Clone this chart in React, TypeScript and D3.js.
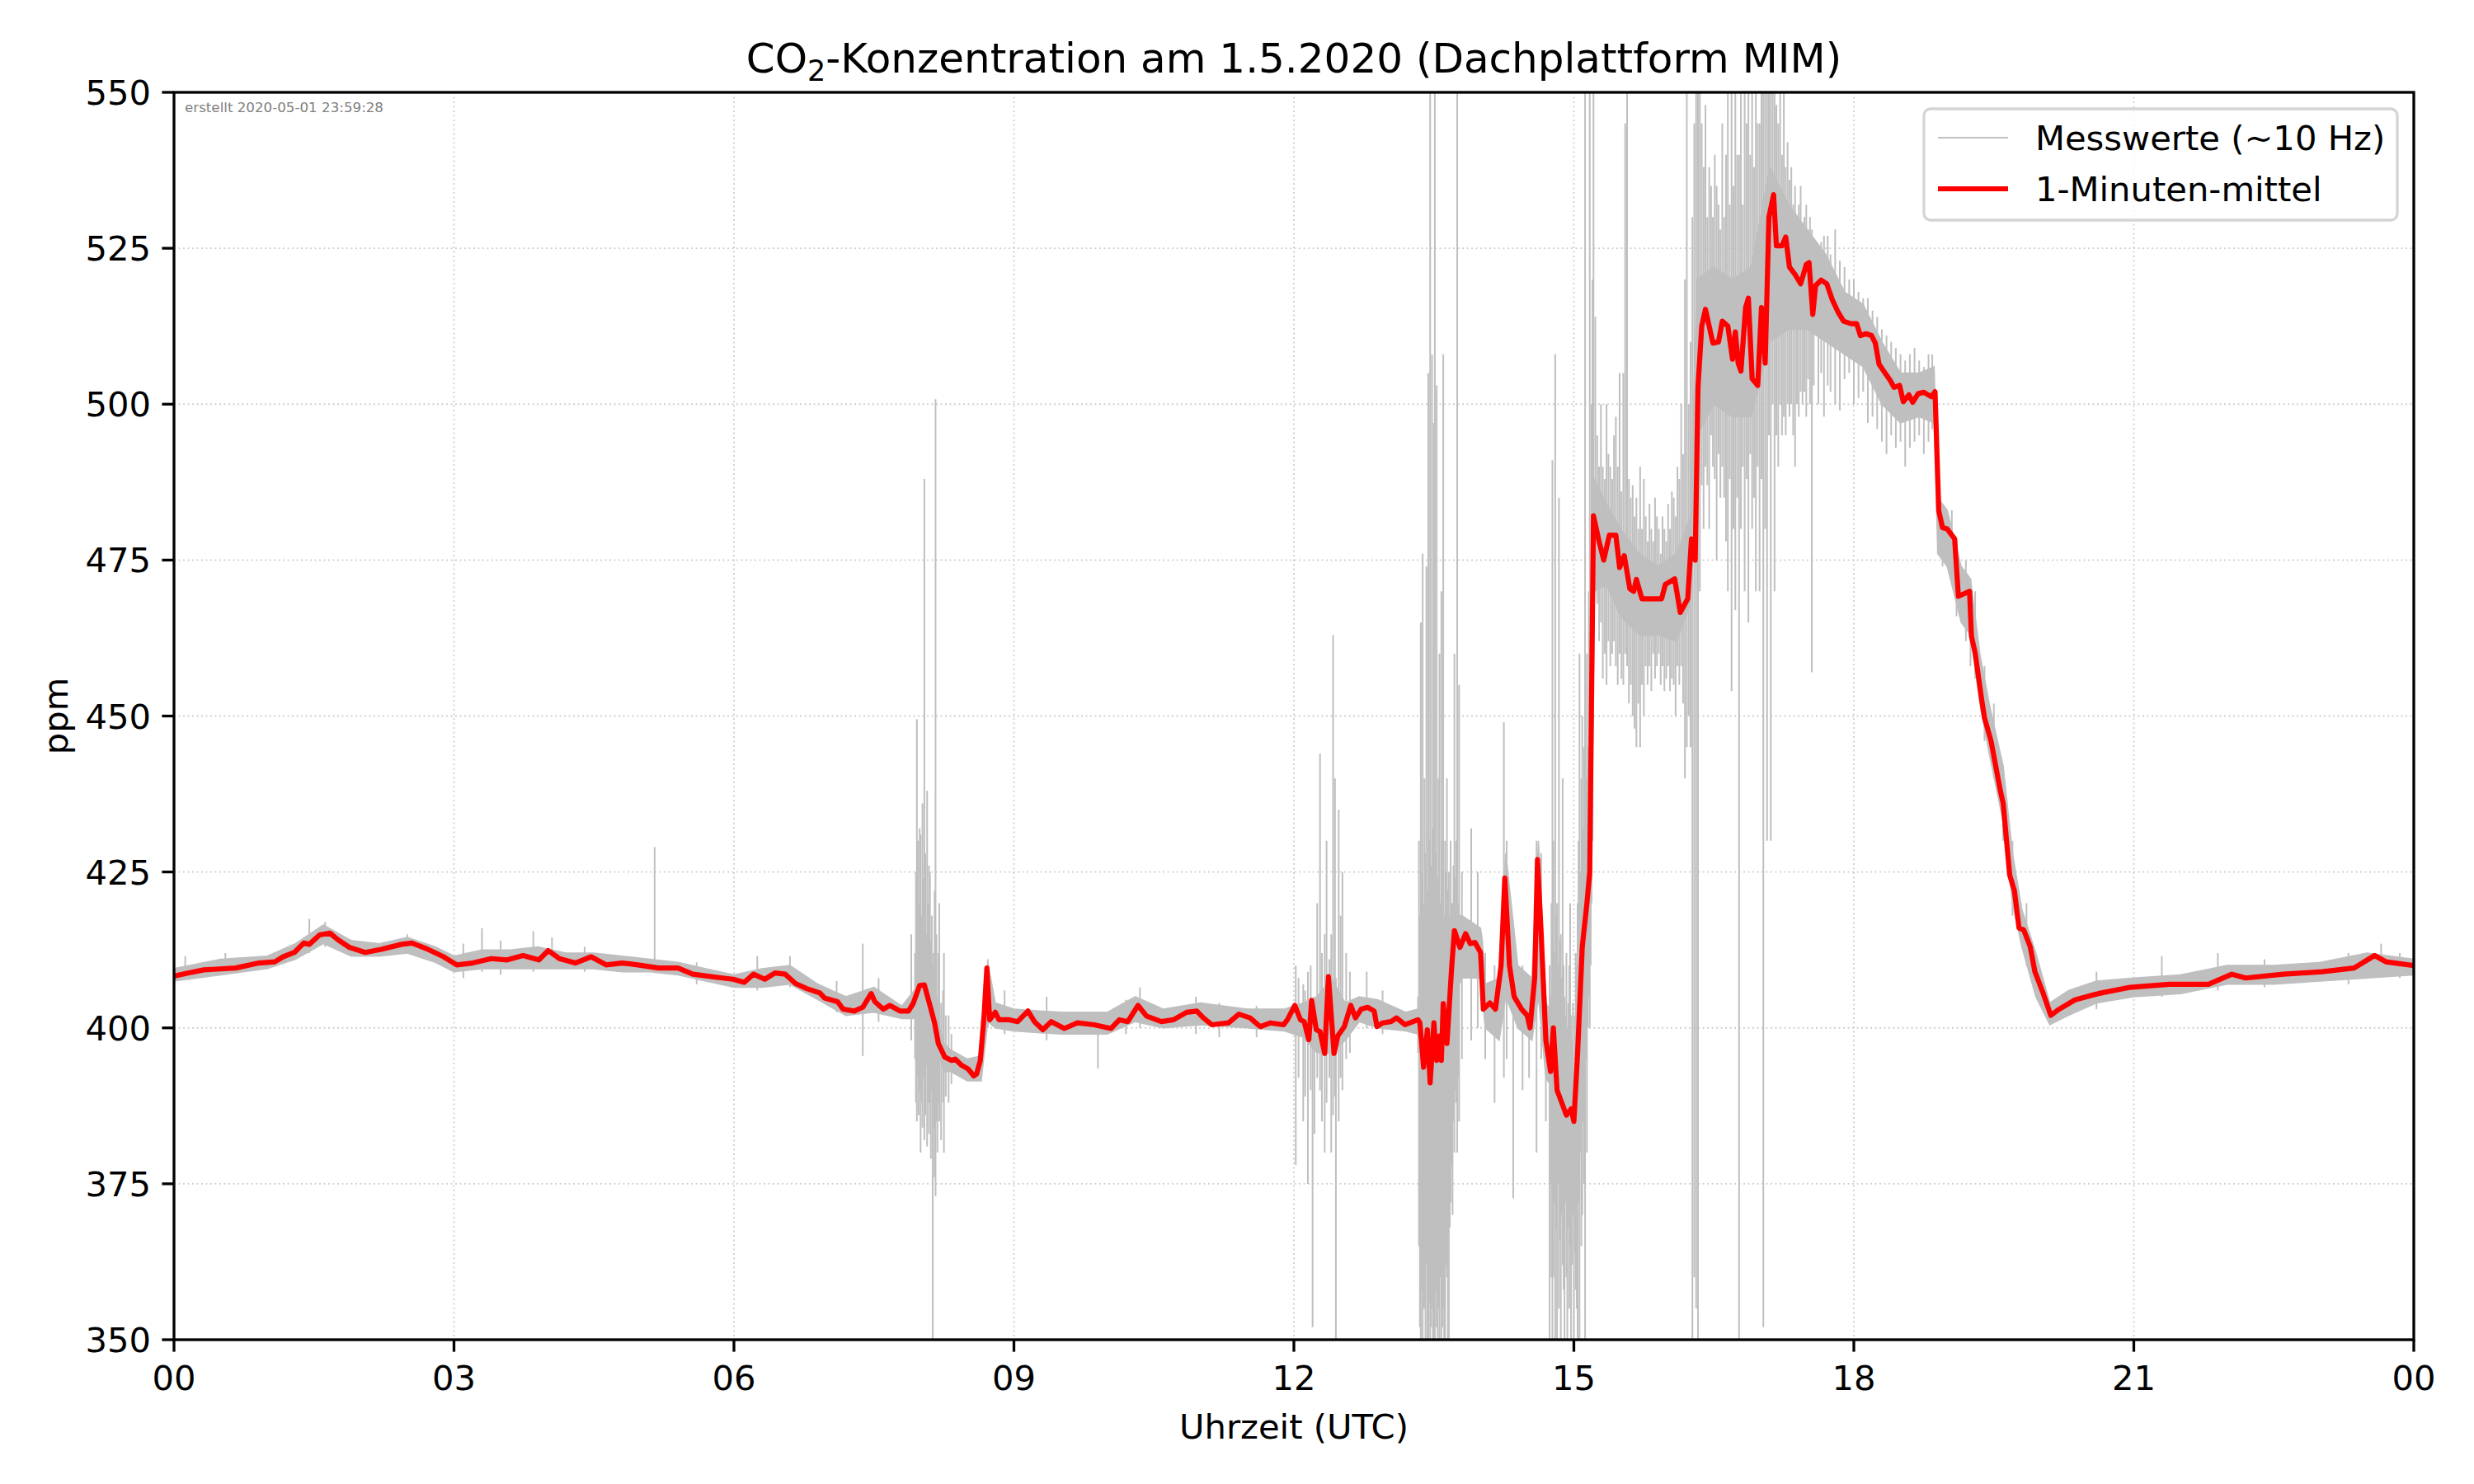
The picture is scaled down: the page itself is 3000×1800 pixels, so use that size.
import * as d3 from "d3";

// plot frame in page pixels (figure is 3000x1800)
const plot = { left: 211, right: 2927, top: 112, bottom: 1625 };
const width = 3000,
  height = 1800;

const title = "-Konzentration am 1.5.2020 (Dachplattform MIM)";
const xLabel = "Uhrzeit (UTC)";
const yLabel = "ppm";
const stamp = "erstellt 2020-05-01 23:59:28";
const legendLabels = ["Messwerte (~10 Hz)", "1-Minuten-mittel"];

const xTickHours = [0, 3, 6, 9, 12, 15, 18, 21, 24];
const xTickLabels = ["00", "03", "06", "09", "12", "15", "18", "21", "00"];
const yTicks = [350, 375, 400, 425, 450, 475, 500, 525, 550];

// 1-Minuten-mittel: [Stunde, ppm]
const meanSeries: [number, number][] = [
  [0, 408.3], [0.15, 408.8], [0.32, 409.3], [0.66, 409.6], [0.91, 410.4], [1.08, 410.6],
  [1.17, 411.4], [1.29, 412.1], [1.39, 413.6], [1.45, 413.4], [1.56, 414.9], [1.67, 415.2],
  [1.76, 414.1], [1.88, 412.9], [2.05, 412.1], [2.22, 412.6], [2.44, 413.4], [2.55, 413.6],
  [2.72, 412.6], [2.89, 411.4], [3.03, 410.1], [3.2, 410.4], [3.4, 411.1], [3.57, 410.9],
  [3.74, 411.6], [3.91, 410.9], [4.01, 412.4], [4.13, 411.1], [4.3, 410.4], [4.47, 411.4],
  [4.63, 410.1], [4.8, 410.4], [4.97, 410.1], [5.19, 409.6], [5.4, 409.6], [5.56, 408.6],
  [5.82, 408.1], [5.99, 407.8], [6.11, 407.3], [6.21, 408.6], [6.33, 407.8], [6.44, 408.8],
  [6.55, 408.6], [6.66, 407.1], [6.78, 406.3], [6.92, 405.6], [6.97, 404.8], [7.11, 404.2],
  [7.17, 403], [7.29, 402.7], [7.38, 403.3], [7.47, 405.5], [7.51, 404.2], [7.6, 403],
  [7.67, 403.6], [7.78, 402.7], [7.87, 402.7], [7.92, 403.9], [7.99, 406.8], [8.04, 406.9],
  [8.1, 403.6], [8.15, 400.8], [8.19, 397.5], [8.26, 395.3], [8.33, 394.8], [8.37, 395],
  [8.44, 394], [8.51, 393.4], [8.57, 392.3], [8.6, 392.6], [8.64, 394.8], [8.68, 401.9],
  [8.71, 409.6], [8.74, 401.3], [8.8, 402.5], [8.84, 401.3], [8.95, 401.3], [9.04, 401],
  [9.15, 402.7], [9.22, 401], [9.31, 399.7], [9.4, 401], [9.54, 399.9], [9.68, 400.8],
  [9.86, 400.5], [10.04, 399.9], [10.13, 401.3], [10.22, 401], [10.33, 403.6], [10.42, 401.9],
  [10.58, 401], [10.71, 401.3], [10.85, 402.5], [10.96, 402.7], [11.03, 401.6], [11.12, 400.5],
  [11.3, 400.8], [11.41, 402.2], [11.53, 401.6], [11.64, 400.2], [11.75, 400.8], [11.89, 400.5],
  [11.93, 401.3], [12.01, 403.6], [12.07, 401.3], [12.11, 401], [12.16, 398.1], [12.19, 404.4],
  [12.24, 399.7], [12.28, 399.4], [12.33, 395.9], [12.37, 408.2], [12.43, 395.9], [12.47, 398.7],
  [12.54, 400.2], [12.61, 403.6], [12.66, 401.6], [12.72, 403], [12.79, 403.3], [12.86, 402.7],
  [12.89, 400.2], [12.95, 400.8], [13.04, 401], [13.1, 401.6], [13.19, 400.5], [13.33, 401.3],
  [13.35, 400.8], [13.39, 393.7], [13.43, 399.7], [13.46, 391.2], [13.5, 400.8], [13.53, 394.8],
  [13.56, 398.7], [13.58, 394.8], [13.6, 403.9], [13.64, 397.5], [13.69, 409.6], [13.72, 415.6],
  [13.78, 412.9], [13.84, 415.1], [13.89, 413.5], [13.94, 413.7], [14.0, 412.1], [14.03, 403],
  [14.1, 404], [14.16, 403], [14.22, 410], [14.26, 424], [14.31, 410], [14.36, 405],
  [14.44, 403], [14.5, 402], [14.53, 400], [14.58, 408], [14.61, 427], [14.65, 415],
  [14.7, 398], [14.75, 393], [14.78, 400], [14.82, 390], [14.87, 388], [14.92, 386],
  [14.97, 387], [15.0, 385], [15.04, 396], [15.09, 413], [15.14, 420], [15.17, 425],
  [15.21, 482.1], [15.27, 478], [15.32, 475], [15.38, 479], [15.45, 479], [15.49, 473.8],
  [15.54, 475.7], [15.6, 470.4], [15.64, 470], [15.67, 471.9], [15.73, 468.8], [15.94, 468.8],
  [15.98, 471.1], [16.08, 472], [16.14, 466.6], [16.22, 468.8], [16.26, 478.4], [16.3, 475],
  [16.33, 502.7], [16.37, 512.5], [16.41, 515.2], [16.49, 509.8], [16.55, 510], [16.59, 513.3],
  [16.65, 512.5], [16.7, 507.2], [16.73, 511.6], [16.76, 506.6], [16.79, 505.3], [16.84, 515.5],
  [16.87, 517], [16.91, 504.1], [16.97, 503], [17.01, 515.5], [17.05, 506.6], [17.09, 530],
  [17.14, 533.6], [17.17, 525.4], [17.23, 525.4], [17.27, 526.8], [17.31, 522], [17.37, 520.8],
  [17.43, 519.3], [17.49, 522.4], [17.52, 522.7], [17.56, 514.4], [17.59, 519], [17.65, 519.9],
  [17.71, 519.3], [17.77, 516.7], [17.83, 514.8], [17.89, 513.3], [17.97, 512.9], [18.03, 512.9],
  [18.07, 511], [18.13, 511.3], [18.19, 511], [18.23, 509.8], [18.27, 506.4], [18.33, 505.1],
  [18.39, 503.8], [18.43, 502.7], [18.49, 503], [18.53, 500.4], [18.59, 501.5], [18.63, 500.3],
  [18.69, 501.7], [18.75, 501.9], [18.83, 501.2], [18.87, 502], [18.91, 482.9], [18.95, 480.2],
  [19.0, 480], [19.08, 478.4], [19.12, 469.2], [19.18, 469.6], [19.24, 470], [19.26, 462.8],
  [19.3, 460.1], [19.37, 452.6], [19.4, 449.7], [19.47, 446], [19.52, 442], [19.57, 438],
  [19.6, 436], [19.63, 431], [19.67, 424.5], [19.72, 422], [19.77, 416], [19.82, 415.7],
  [19.89, 413], [19.94, 409], [20.03, 405.5], [20.11, 402], [20.2, 403], [20.37, 404.5],
  [20.62, 405.5], [20.96, 406.5], [21.38, 407], [21.8, 407], [22.05, 408.6], [22.2, 408],
  [22.6, 408.6], [23.02, 409], [23.36, 409.6], [23.58, 411.6], [23.7, 410.6], [24, 410],
];

// Messwerte, schmaler Kern um das Mittel: [Stunde, unten, oben]
const rawBand: [number, number, number][] = [
  [0, 407.5, 409.5], [0.5, 408.5, 411], [1.0, 409.5, 411.5], [1.3, 411, 413.5], [1.6, 413.5, 416.5],
  [1.9, 411.5, 414], [2.2, 411.5, 413.5], [2.5, 412, 414.5], [2.8, 410.5, 413], [3.0, 409, 411.5],
  [3.3, 409.5, 412.5], [3.6, 409.5, 412.5], [3.9, 409.5, 413], [4.2, 409.5, 412], [4.5, 409.5, 412],
  [4.8, 409, 411.5], [5.1, 409, 411], [5.4, 408.5, 410.5], [5.7, 407.5, 409.5], [6.0, 406.5, 408.5],
  [6.3, 406.5, 409.5], [6.6, 407, 410], [6.9, 404.5, 407], [7.2, 402, 405], [7.5, 402.5, 406.5],
  [7.8, 401.5, 403.5], [7.93, 401.5, 406], [8.05, 402, 408], [8.15, 398, 403], [8.25, 393, 397.5],
  [8.32, 393, 396.5], [8.5, 391.5, 395], [8.65, 391.5, 395.5], [8.72, 401, 410.5],
  [8.8, 400, 404], [9.0, 399.5, 403], [9.5, 399, 402.5], [10.0, 399, 402.5], [10.3, 401, 405],
  [10.6, 400, 403], [11.0, 400.5, 404], [11.5, 400, 403], [11.9, 399.5, 403], [12.1, 398.5, 404],
  [12.25, 396, 405], [12.4, 396, 408], [12.55, 398, 404], [12.7, 401, 405], [12.9, 400, 404.5],
  [13.2, 399.5, 402.5], [13.33, 399, 403], [13.36, 392, 404], [13.5, 390, 404], [13.65, 394, 408],
  [13.72, 405, 418], [13.8, 408, 418], [14.0, 408, 416], [14.02, 405, 414], [14.05, 400, 407],
  [14.2, 398, 408], [14.27, 405, 428], [14.4, 400, 410], [14.55, 398, 408], [14.62, 405, 430],
  [14.7, 392, 404], [14.78, 390, 402], [14.9, 383, 392], [15.0, 382, 390], [15.1, 405, 420],
  [15.18, 415, 430], [15.22, 470, 488], [15.35, 471, 484], [15.5, 466, 480], [15.7, 463, 476],
  [15.9, 463, 474], [16.1, 462, 476], [16.25, 468, 482], [16.32, 495, 520], [16.5, 500, 522],
  [16.7, 498, 520], [16.9, 498, 522], [17.1, 510, 538], [17.3, 512, 532], [17.5, 512, 528],
  [17.7, 510, 524], [17.9, 508, 518], [18.1, 506, 516], [18.3, 500, 510], [18.5, 497, 505],
  [18.7, 498, 505], [18.86, 497, 506], [18.9, 476, 485], [19.0, 474, 483], [19.15, 465, 474],
  [19.25, 463, 472], [19.35, 452, 460], [19.45, 444, 452], [19.6, 433, 442], [19.7, 420, 428],
  [19.8, 413, 419], [19.95, 405, 412], [20.1, 400.5, 404], [20.3, 402, 406], [20.6, 404, 407.5],
  [21.0, 405, 408], [21.5, 405.5, 408.5], [22.0, 407, 410], [22.5, 407, 410], [23.0, 407.5, 410.5],
  [23.5, 408, 412], [24, 408.5, 411],
];

// Messwerte, einzelne Ausschlaege: [Stunde, unten, oben]
const rawSpikes: [number, number, number][] = [
  // ruhige Phase
  [0.12, 408, 411.5], [0.55, 408.5, 412], [1.45, 412, 417.5], [1.62, 413, 417], [2.5, 412, 415],
  [3.1, 408, 413.5], [3.3, 409, 416], [3.5, 408.5, 414], [3.85, 409, 415.5], [4.05, 409.5, 414.5],
  [4.4, 409, 413], [5.15, 409, 429], [5.6, 407, 410.5], [6.25, 406, 411.5], [6.6, 406.5, 411.5],
  [7.1, 402.5, 407.5], [7.38, 395.5, 413.5], [7.55, 401, 408], [7.9, 398, 415],
  // um 8 Uhr
  [7.94, 395, 412], [7.95, 388, 425], [7.96, 385, 449.5], [7.97, 392, 430], [7.98, 386, 420],
  [7.99, 390, 432], [8.0, 380, 431], [8.01, 388, 418], [8.02, 384, 436], [8.03, 392, 424],
  [8.04, 382, 488], [8.05, 386, 428], [8.06, 394, 415], [8.07, 381, 438], [8.08, 388, 420],
  [8.09, 383, 426], [8.1, 388, 425], [8.11, 379, 414], [8.12, 390, 418], [8.13, 350, 410],
  [8.14, 384, 412], [8.15, 376, 422], [8.16, 373, 500.8], [8.17, 385, 415], [8.18, 380, 405],
  [8.19, 388, 412], [8.2, 385, 420], [8.22, 382, 404], [8.24, 388, 406], [8.25, 380, 412],
  [8.27, 389, 402], [8.3, 388, 402], [8.33, 391, 399],
  [8.72, 400, 411], [8.9, 399, 406], [9.35, 398, 405], [9.9, 393.5, 402], [10.2, 399, 404.5],
  [10.35, 400, 406.5], [10.95, 399, 405], [11.2, 398.5, 404], [11.6, 398.5, 403.5],
  // um 12 Uhr
  [12.02, 378, 410], [12.05, 392, 408], [12.1, 385, 407], [12.12, 389, 406], [12.15, 375, 409],
  [12.18, 390, 410], [12.2, 352, 404], [12.22, 383, 405], [12.25, 392, 420], [12.28, 390, 444],
  [12.3, 385, 412], [12.33, 380, 415], [12.35, 388, 430], [12.38, 392, 411], [12.4, 380, 415],
  [12.42, 386, 463], [12.44, 389, 440], [12.45, 350, 408], [12.48, 385, 435], [12.5, 392, 418],
  [12.52, 390, 425], [12.56, 395, 412], [12.6, 396, 409], [12.78, 400, 409], [12.95, 399, 406],
  // 13:20 bis 13:45
  [13.33, 396, 405], [13.34, 365, 430], [13.35, 352, 418], [13.36, 350, 465], [13.37, 358, 425],
  [13.38, 350, 476], [13.39, 355, 420], [13.4, 355, 440], [13.41, 350, 428], [13.42, 362, 474],
  [13.43, 350, 422], [13.44, 350, 505], [13.45, 356, 430], [13.46, 350, 550], [13.47, 352, 426],
  [13.48, 355, 508], [13.49, 350, 432], [13.5, 350, 497], [13.51, 350, 550], [13.52, 358, 428],
  [13.53, 352, 503], [13.54, 350, 424], [13.55, 355, 440], [13.56, 350, 460], [13.57, 360, 420],
  [13.58, 350, 470], [13.59, 352, 430], [13.6, 355, 508], [13.61, 350, 418], [13.62, 350, 430],
  [13.63, 362, 425], [13.64, 360, 440], [13.65, 350, 422], [13.66, 350, 425], [13.67, 368, 418],
  [13.68, 372, 430], [13.69, 378, 420], [13.7, 370, 420], [13.71, 385, 426], [13.72, 380, 460],
  [13.73, 390, 424], [13.74, 388, 430], [13.75, 380, 550], [13.76, 392, 420], [13.77, 385, 455],
  [13.8, 395, 425], [13.9, 398, 432], [13.97, 400, 425], [14.05, 395, 412], [14.15, 388, 410],
  [14.25, 392, 449], [14.28, 395, 430], [14.35, 372.7, 415], [14.45, 390, 410], [14.52, 392, 408],
  [14.6, 380, 430], [14.65, 395, 428], [14.7, 385, 405],
  // 14:45 bis 15:12
  [14.74, 350, 410], [14.75, 375, 405], [14.76, 360, 420], [14.77, 350, 491], [14.78, 360, 430],
  [14.79, 372, 412], [14.8, 350, 508], [14.81, 368, 418], [14.82, 350, 420], [14.83, 375, 410],
  [14.84, 355, 485], [14.85, 366, 414], [14.86, 350, 415], [14.87, 370, 408], [14.88, 362, 440],
  [14.89, 358, 410], [14.9, 350, 405], [14.91, 372, 402], [14.92, 360, 412], [14.93, 350, 400],
  [14.94, 368, 404], [14.95, 355, 410], [14.96, 365, 420], [14.97, 350, 402], [14.98, 362, 398],
  [14.99, 370, 404], [15.0, 350, 390], [15.01, 364, 402], [15.02, 358, 412], [15.03, 355, 410],
  [15.04, 350, 420], [15.05, 372, 430], [15.06, 350, 460], [15.07, 380, 425], [15.08, 365, 440],
  [15.09, 370, 450], [15.1, 385, 432], [15.11, 375, 445], [15.12, 350, 550], [15.13, 395, 440],
  [15.14, 380, 460], [15.15, 400, 445], [15.16, 405, 470], [15.17, 400, 550], [15.18, 410, 460],
  [15.19, 420, 500], [15.2, 430, 520],
  // 15:12 bis 16:18
  [15.21, 465, 550], [15.23, 470, 514], [15.25, 468, 495], [15.27, 462, 490], [15.29, 465, 500],
  [15.31, 456, 490], [15.33, 460, 488], [15.35, 455, 500], [15.37, 462, 492], [15.39, 458, 490],
  [15.41, 460, 488], [15.43, 462, 495], [15.45, 458, 498], [15.47, 455, 490], [15.49, 460, 505],
  [15.51, 456, 486], [15.53, 455, 505], [15.55, 460, 545], [15.57, 458, 550], [15.59, 452, 488],
  [15.61, 455, 485], [15.63, 450, 487], [15.65, 448, 482], [15.67, 445, 485], [15.69, 452, 480],
  [15.71, 445, 490], [15.73, 455, 480], [15.75, 450, 488], [15.77, 458, 482], [15.79, 455, 478],
  [15.81, 458, 484], [15.83, 454, 480], [15.85, 460, 478], [15.87, 456, 485], [15.89, 458, 482],
  [15.91, 460, 480], [15.93, 455, 476], [15.95, 458, 482], [15.97, 454, 480], [15.99, 456, 478],
  [16.01, 458, 484], [16.03, 454, 480], [16.05, 456, 486], [16.07, 455, 485], [16.09, 450, 482],
  [16.11, 458, 490], [16.13, 455, 488], [16.15, 458, 500], [16.17, 452, 492], [16.19, 440, 520],
  [16.21, 445, 550], [16.23, 450, 500], [16.25, 445, 510], [16.27, 350, 530], [16.29, 360, 545],
  // 16:18 bis 17:35
  [16.31, 355, 550], [16.33, 350, 550], [16.35, 470, 550], [16.37, 487, 545], [16.39, 480, 538],
  [16.41, 490, 548], [16.43, 487, 530], [16.45, 480, 538], [16.47, 495, 535], [16.49, 490, 530],
  [16.51, 488, 540], [16.53, 475, 535], [16.55, 492, 532], [16.57, 485, 528], [16.59, 490, 545],
  [16.61, 485, 530], [16.63, 478, 540], [16.65, 470, 550], [16.67, 488, 532], [16.69, 454, 550],
  [16.71, 480, 535], [16.73, 467, 550], [16.75, 485, 540], [16.77, 350, 540], [16.79, 480, 550],
  [16.81, 490, 532], [16.83, 470, 550], [16.85, 488, 545], [16.87, 465, 550], [16.89, 492, 540],
  [16.91, 480, 550], [16.93, 485, 538], [16.95, 470, 550], [16.97, 490, 545], [16.99, 470, 545],
  [17.01, 488, 550], [17.03, 352, 550], [17.05, 480, 550], [17.07, 430, 550], [17.09, 495, 550],
  [17.11, 430, 550], [17.13, 500, 550], [17.15, 470, 550], [17.17, 495, 548], [17.19, 490, 545],
  [17.21, 500, 550], [17.23, 495, 540], [17.25, 498, 550], [17.27, 495, 538], [17.29, 500, 542],
  [17.31, 498, 536], [17.33, 500, 538], [17.35, 495, 532], [17.37, 490, 535], [17.39, 500, 530],
  [17.41, 498, 532], [17.43, 502, 535], [17.45, 500, 528], [17.47, 502, 530], [17.49, 498, 532],
  [17.51, 504, 528], [17.53, 500, 530], [17.55, 457, 528], [17.57, 503, 526],
  // Abendstunden
  [17.62, 500, 525], [17.65, 505, 526], [17.68, 498, 527], [17.72, 503, 527], [17.75, 502, 524],
  [17.8, 500, 528], [17.85, 499, 523], [17.9, 504, 522], [17.95, 505, 520], [18.0, 500, 520],
  [18.05, 501, 518], [18.1, 502, 517], [18.15, 497, 517], [18.2, 498, 515], [18.25, 496, 514],
  [18.3, 494, 512], [18.35, 492, 511], [18.4, 495, 510], [18.45, 493, 509], [18.5, 494, 508],
  [18.55, 490, 507], [18.6, 493, 508], [18.65, 494, 509], [18.7, 495, 507], [18.75, 492, 506],
  [18.8, 494, 508], [18.84, 496, 508], [18.9, 476, 486], [18.95, 474, 484], [19.05, 472, 483],
  [19.1, 466, 478], [19.2, 462, 475], [19.25, 458, 472], [19.3, 456, 470], [19.4, 446, 458],
  [19.5, 440, 452], [19.6, 430, 442], [19.7, 418, 430], [19.85, 410, 420],
  [20.6, 403, 409], [21.3, 405, 411.5], [21.9, 406, 412], [22.4, 406.5, 411], [23.3, 407, 412],
  [23.65, 408, 413.5], [23.85, 408, 412],
];

const font = "DejaVu Sans, sans-serif";
const grey = "#bfbfbf";

export default function App() {
  const x = d3.scaleLinear().domain([0, 24]).range([plot.left, plot.right]);
  const y = d3.scaleLinear().domain([350, 550]).range([plot.bottom, plot.top]);

  const bandPath = d3
    .area<[number, number, number]>()
    .x((d) => x(d[0]))
    .y0((d) => y(d[1]))
    .y1((d) => y(d[2]))(rawBand);

  const meanPath = d3
    .line<[number, number]>()
    .x((d) => x(d[0]))
    .y((d) => y(d[1]))(meanSeries);

  const cx = (plot.left + plot.right) / 2;
  const cy = (plot.top + plot.bottom) / 2;

  return (
    <svg
      width={width}
      height={height}
      style={{ position: "absolute", left: 0, top: 0, background: "#fff" }}
      fontFamily={font}
    >
      <defs>
        <clipPath id="plot-clip">
          <rect x={plot.left} y={plot.top} width={plot.right - plot.left} height={plot.bottom - plot.top} />
        </clipPath>
      </defs>

      {/* gridlines */}
      <g stroke="#cfcfcf" strokeWidth={1.8} strokeDasharray="2 3.5">
        {xTickHours.map((h, i) => (
          <line key={"gx" + i} x1={x(h)} x2={x(h)} y1={plot.top} y2={plot.bottom} />
        ))}
        {yTicks.map((v) => (
          <line key={"gy" + v} x1={plot.left} x2={plot.right} y1={y(v)} y2={y(v)} />
        ))}
      </g>

      {/* data */}
      <g clipPath="url(#plot-clip)">
        <path d={bandPath || ""} fill={grey} stroke={grey} strokeWidth={1.5} />
        <g stroke={grey} strokeWidth={2}>
          {rawSpikes.map((d, i) => (
            <line key={"s" + i} x1={x(d[0])} x2={x(d[0])} y1={y(d[1])} y2={y(d[2])} />
          ))}
        </g>
        <path d={meanPath || ""} fill="none" stroke="#ff0000" strokeWidth={6.2} strokeLinejoin="round" />
      </g>

      {/* stamp */}
      <text x={plot.left + 13} y={plot.top + 24} fontSize={16.7} fill="#808080">
        {stamp}
      </text>

      {/* spines */}
      <rect
        x={plot.left}
        y={plot.top}
        width={plot.right - plot.left}
        height={plot.bottom - plot.top}
        fill="none"
        stroke="#000"
        strokeWidth={3.3}
      />

      {/* x axis */}
      <g>
        {xTickHours.map((h, i) => (
          <g key={"xt" + i}>
            <line x1={x(h)} x2={x(h)} y1={plot.bottom} y2={plot.bottom + 14.6} stroke="#000" strokeWidth={3.3} />
            <text x={x(h)} y={plot.bottom + 61} fontSize={41.7} textAnchor="middle" fill="#000">
              {xTickLabels[i]}
            </text>
          </g>
        ))}
        <text x={cx} y={1745} fontSize={41.7} textAnchor="middle" fill="#000">
          {xLabel}
        </text>
      </g>

      {/* y axis */}
      <g>
        {yTicks.map((v) => (
          <g key={"yt" + v}>
            <line x1={plot.left - 14.6} x2={plot.left} y1={y(v)} y2={y(v)} stroke="#000" strokeWidth={3.3} />
            <text x={plot.left - 28} y={y(v) + 15} fontSize={41.7} textAnchor="end" fill="#000">
              {v}
            </text>
          </g>
        ))}
        <text
          x={82}
          y={cy}
          fontSize={41.7}
          textAnchor="middle"
          fill="#000"
          transform={`rotate(-90, 82, ${cy})`}
        >
          {yLabel}
        </text>
      </g>

      {/* title */}
      <text x={cx} y={88} fontSize={50} textAnchor="middle" fill="#000">
        CO
        <tspan fontSize={35} dy={10}>
          2
        </tspan>
        <tspan dy={-10}>{title}</tspan>
      </text>

      {/* legend */}
      <g>
        <rect
          x={2333}
          y={132}
          width={574}
          height={135}
          rx={8}
          fill="#fff"
          fillOpacity={0.8}
          stroke="#d4d4d4"
          strokeWidth={3.3}
        />
        <line x1={2350} x2={2435} y1={167} y2={167} stroke={grey} strokeWidth={2} />
        <text x={2468} y={182} fontSize={41.7} fill="#000">
          {legendLabels[0]}
        </text>
        <line x1={2350} x2={2435} y1={229} y2={229} stroke="#ff0000" strokeWidth={6.2} />
        <text x={2468} y={244} fontSize={41.7} fill="#000">
          {legendLabels[1]}
        </text>
      </g>
    </svg>
  );
}
